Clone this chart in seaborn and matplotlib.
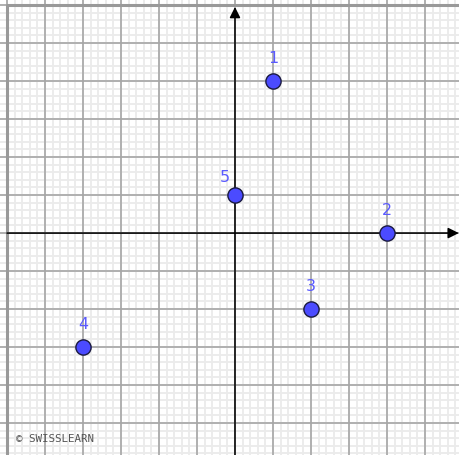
import matplotlib
matplotlib.use("Agg")
import matplotlib.pyplot as plt
import numpy as np
import pandas as pd
import seaborn as sns

# points
labels = ["1", "2", "3", "4", "5"]
xs = [1, 4, 2, -4, 0]
ys = [4, 0, -2, -3, 1]

df = pd.DataFrame({"label": labels, "x": xs, "y": ys})

sns.set_style("white")

fig = plt.figure(figsize=(4.59, 4.56), dpi=100)
ax = fig.add_axes([0, 0, 1, 1])
ax.set_xlim(-6.184, 5.895)
ax.set_ylim(-5.84, 6.16)

# minor grid
for v in np.arange(-6, 6.01, 0.2):
    ax.axvline(v, color="#ebebeb", lw=1.3, zorder=0)
    ax.axhline(v, color="#ebebeb", lw=1.3, zorder=0)
# major grid
for v in range(-6, 7):
    ax.axvline(v, color="#a6a6a6", lw=1.2, zorder=1)
    ax.axhline(v, color="#a6a6a6", lw=1.2, zorder=1)
# frame
ax.plot([-6, 6, 6, -6, -6], [-6, -6, 6, 6, -6], color="#999999", lw=2.2, zorder=2)

# axes with arrows
ax.annotate("", xy=(5.89, 0), xytext=(-6.0, 0),
            arrowprops=dict(arrowstyle="-|>", color="black", lw=1.1, mutation_scale=16,
                            shrinkA=0, shrinkB=0), zorder=3)
ax.annotate("", xy=(0, 5.95), xytext=(0, -6.0),
            arrowprops=dict(arrowstyle="-|>", color="black", lw=1.1, mutation_scale=16,
                            shrinkA=0, shrinkB=0), zorder=3)

sns.scatterplot(data=df, x="x", y="y", ax=ax, s=120, color="#4b4bff",
                edgecolor="#1a1a40", linewidth=1.0, zorder=5, legend=False)

for _, r in df.iterrows():
    dx = -0.27 if r["label"] == "5" else 0
    dy = 0.5 if r["label"] == "5" else 0.63
    ax.text(r["x"] + dx, r["y"] + dy, r["label"], color="#5a5aff", fontsize=11.5,
            ha="center", va="center", family="DejaVu Sans", zorder=6)

ax.text(-5.75, -5.4, "© SWISSLEARN", color="#555555", fontsize=7.8,
        family="DejaVu Sans Mono", ha="left", va="center", zorder=6)

ax.set_axis_off()
fig.savefig("out.png", dpi=100)
